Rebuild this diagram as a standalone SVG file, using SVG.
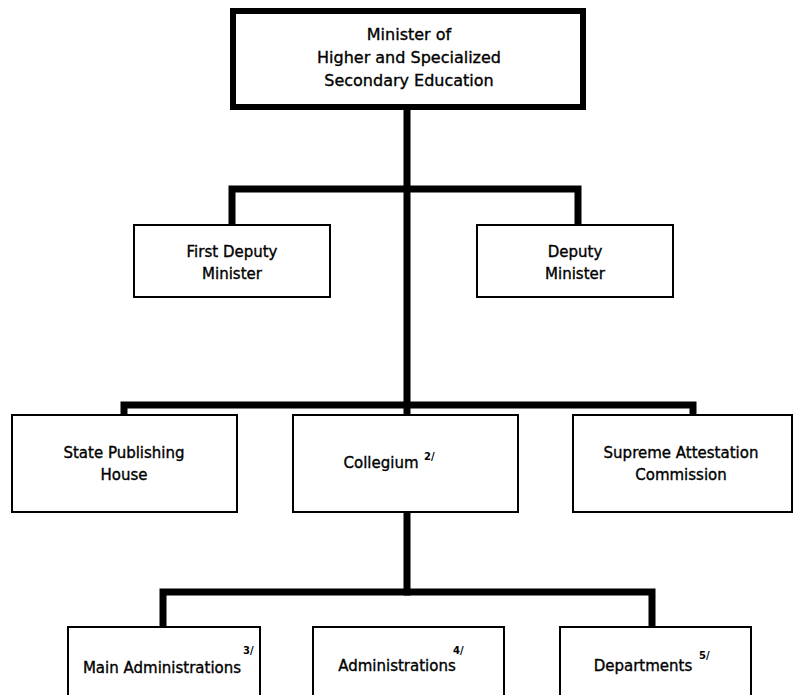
<svg xmlns="http://www.w3.org/2000/svg" width="793" height="695" viewBox="0 0 793 695">
<style>
.box{fill:#fff;stroke:#000;stroke-width:2}
.top{fill:#fff;stroke:#000;stroke-width:6}
.lbl{font-family:"DejaVu Sans",sans-serif;font-size:15px;fill:#000;stroke:#000;stroke-width:0.35;text-anchor:middle}
.ttl{font-family:"DejaVu Sans",sans-serif;font-size:16px;fill:#000;stroke:#000;stroke-width:0.35;text-anchor:middle}
.sup{font-family:"DejaVu Sans",sans-serif;font-size:10px;fill:#000;font-weight:bold}
.con{fill:none;stroke:#000;stroke-width:7;stroke-linejoin:miter;stroke-linecap:square}
</style>
<rect width="793" height="695" fill="#fff"/>
<g id="connectors">
<path class="con" d="M407,107 V592"/>
<path class="con" d="M232,225 V189 H578 V225"/>
<path class="con" d="M124,415 V405 H693 V415"/>
<path class="con" d="M163,627 V592 H652 V627"/>
</g>
<g id="minister">
<rect class="top" x="233" y="11" width="350" height="96"/>
<text class="ttl" x="409" y="40">Minister of</text>
<text class="ttl" x="409" y="63">Higher and Specialized</text>
<text class="ttl" x="409" y="86">Secondary Education</text>
</g>
<g id="first-deputy">
<rect class="box" x="134" y="225" width="196" height="72"/>
<text class="lbl" x="232" y="257">First Deputy</text>
<text class="lbl" x="232" y="279">Minister</text>
</g>
<g id="deputy">
<rect class="box" x="477" y="225" width="196" height="72"/>
<text class="lbl" x="575" y="257">Deputy</text>
<text class="lbl" x="575" y="279">Minister</text>
</g>
<g id="state-publishing">
<rect class="box" x="12" y="415" width="225" height="97"/>
<text class="lbl" x="124" y="458">State Publishing</text>
<text class="lbl" x="124" y="480">House</text>
</g>
<g id="collegium">
<rect class="box" x="293" y="415" width="225" height="97"/>
<text class="lbl" x="381" y="468">Collegium</text>
<text class="sup" x="424" y="460">2/</text>
</g>
<g id="supreme">
<rect class="box" x="573" y="415" width="219" height="97"/>
<text class="lbl" x="681" y="458">Supreme Attestation</text>
<text class="lbl" x="681" y="480">Commission</text>
</g>
<g id="main-admin">
<rect class="box" x="68" y="627" width="192" height="80"/>
<text class="lbl" x="162" y="673">Main Administrations</text>
<text class="sup" x="243" y="654">3/</text>
</g>
<g id="admin">
<rect class="box" x="313" y="627" width="191" height="80"/>
<text class="lbl" x="397" y="671">Administrations</text>
<text class="sup" x="453" y="654">4/</text>
</g>
<g id="departments">
<rect class="box" x="560" y="627" width="191" height="80"/>
<text class="lbl" x="643" y="671">Departments</text>
<text class="sup" x="699" y="659">5/</text>
</g>
</svg>
